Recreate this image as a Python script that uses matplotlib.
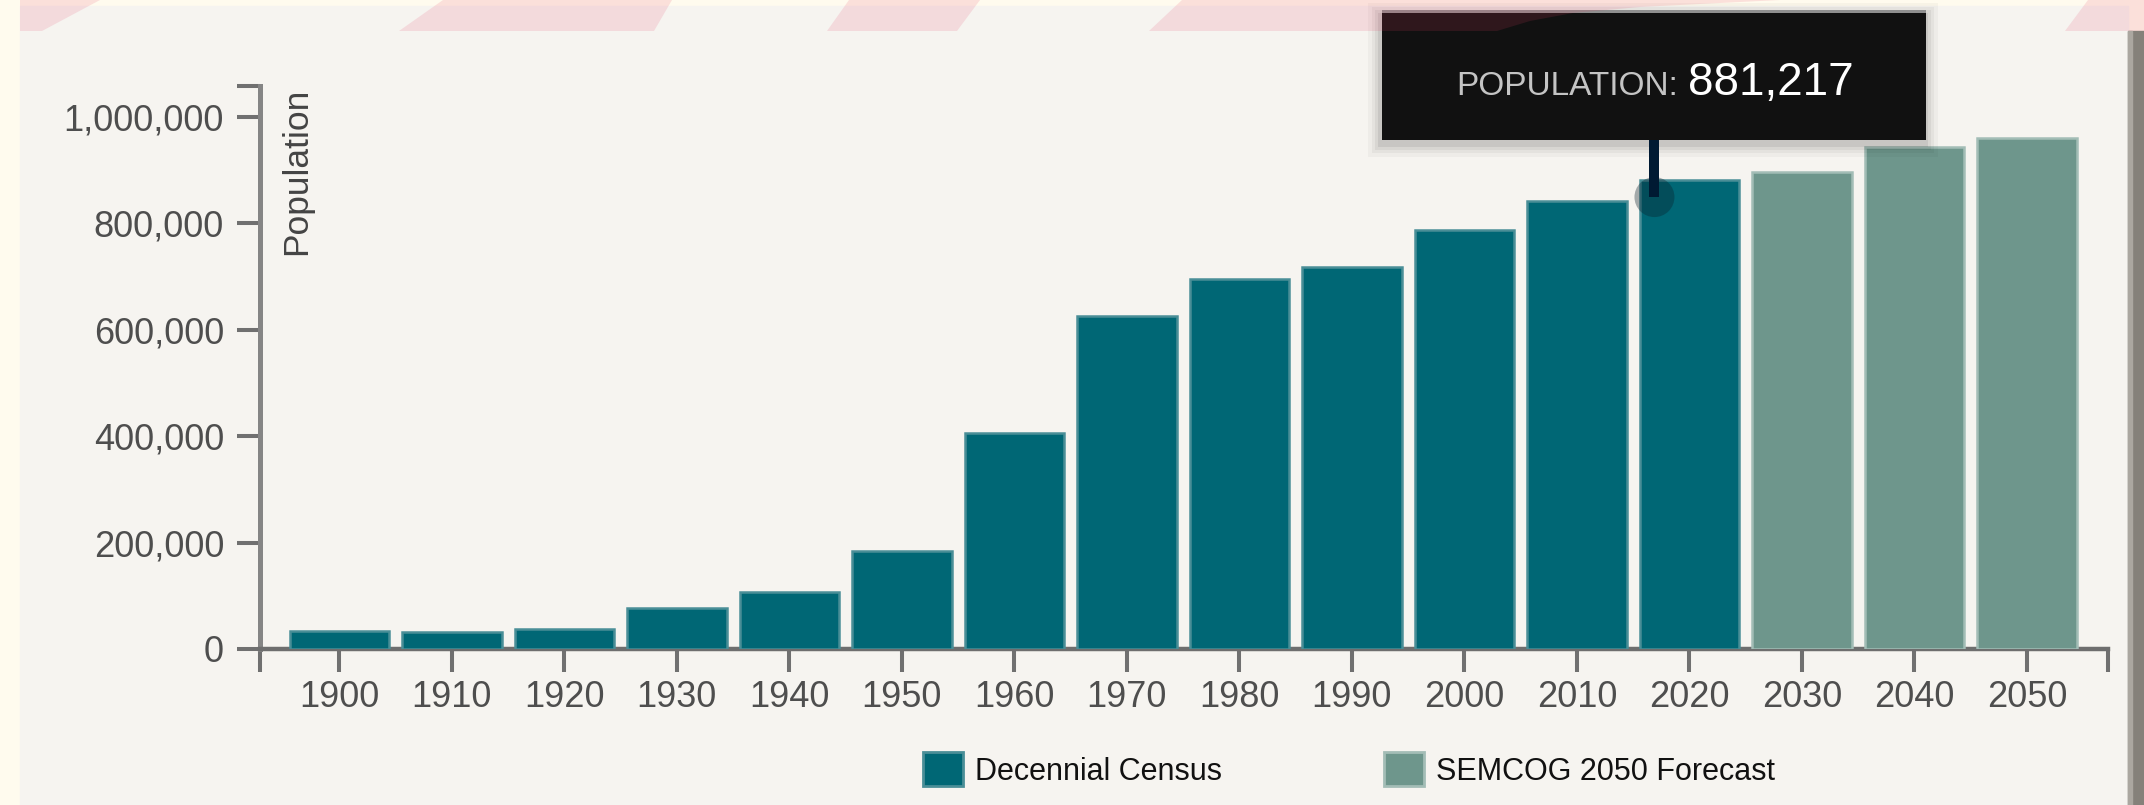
import numpy as np
import matplotlib.pyplot as plt
from matplotlib.patches import Rectangle, Polygon, Circle, Patch
from matplotlib.transforms import IdentityTransform

plt.rcParams['font.family'] = ['Liberation Sans', 'DejaVu Sans']

# dati
anni = ['1900', '1910', '1920', '1930', '1940', '1950', '1960', '1970',
        '1980', '1990', '2000', '2010', '2020', '2030', '2040', '2050']
censimento = [33244, 32606, 38103, 77146, 107638, 184961, 405804, 625309,
              694600, 717400, 788149, 840978, 881217]
previsione = [896000, 944000, 961000]
etichette_legenda = ['Decennial Census', 'SEMCOG 2050 Forecast']
tacche_y = [0, 200000, 400000, 600000, 800000, 1000000]
indice_evidenziato = 12

colore_censimento = '#006775'
colore_previsione = '#6E968C'
bordo_censimento = '#4A8E97'
bordo_previsione = '#A3BDB6'

L, H = 2144, 805
fig = plt.figure(figsize=(L / 100, H / 100), dpi=100, facecolor='#FFFBEE')
pix = IdentityTransform()


def rett(x0, y0, x1, y1, **kw):
    # coordinate immagine (y verso il basso) -> pixel display
    return Rectangle((x0, H - y1), x1 - x0, y1 - y0, transform=pix, **kw)


# sfondo pannello e bordo destro
fig.add_artist(rett(20, 6, 2128, H, color='#F6F4F0', zorder=-5))
fig.add_artist(rett(2128, 31, L, H, color='#85817A', zorder=-4))
fig.add_artist(rett(2128, 31, 2132, H, color='#ABA7A0', zorder=-4))

ax = fig.add_axes([260 / L, 1 - 649 / H, (2108 - 260) / L, (649 - 86) / H])
ax.set_facecolor('none')

x = np.arange(len(anni))
n = len(censimento)
ax.bar(x[:n], censimento, width=0.885, color=colore_censimento,
       edgecolor=bordo_censimento, linewidth=1.8, zorder=3)
ax.bar(x[n:], previsione, width=0.885, color=colore_previsione,
       edgecolor=bordo_previsione, linewidth=1.8, zorder=3)

x_min, x_max = -0.705, 15.72
y_max = 1058000
ax.set_xlim(x_min, x_max)
ax.set_ylim(0, y_max)

ax.set_xticks(x, anni)
ax.set_xticks([x_min, x_max], minor=True)
ax.set_yticks(tacche_y, [f'{v:,}' for v in tacche_y])
ax.set_yticks([y_max], minor=True)
ax.tick_params(which='both', direction='out', length=16.5, width=2.9,
               color='#707070', labelcolor='#4E4E4E', labelsize=26)
ax.tick_params(axis='x', which='both', pad=5.5)
ax.tick_params(axis='y', which='both', pad=9.4)

for lato in ['top', 'right']:
    ax.spines[lato].set_visible(False)
ax.spines['left'].set_color('#858585')
ax.spines['left'].set_linewidth(3.6)
ax.spines['bottom'].set_color('#6E6E6E')
ax.spines['bottom'].set_linewidth(3.2)

ax.text(0.02, 0.9964, 'Population', transform=ax.transAxes, rotation=90,
        ha='center', va='top', fontsize=25.5, color='#444444')

# legenda
maniglie = [Patch(facecolor=colore_censimento, edgecolor=bordo_censimento, linewidth=2),
            Patch(facecolor=colore_previsione, edgecolor=bordo_previsione, linewidth=2)]
fig.legend(maniglie, etichette_legenda, loc='center',
           bbox_to_anchor=(1349 / L, 1 - 769.5 / H), ncol=2, frameon=False,
           fontsize=22, handlelength=1.31, handleheight=1.34,
           handletextpad=0.39, columnspacing=5.3, borderpad=0,
           labelcolor='#111111')

# tooltip sulla barra 2020
punto = ax.transData.transform((x[indice_evidenziato], censimento[indice_evidenziato]))
cx, cy = punto[0] - 35, punto[1] - 17
bw, bh = 544, 130
bx0, by0 = cx - bw / 2, cy + 57
for k, a in [(12, 0.03), (8, 0.04), (5, 0.05), (2, 0.07)]:
    fig.add_artist(Rectangle((bx0 - 2 - k, by0 - 5 - k), bw + 2 * k + 2, bh + 2 * k,
                             transform=pix, color='black', alpha=a, lw=0, zorder=5))
fig.add_artist(Circle((cx, cy), 20, transform=pix, color='#0A1E2A', alpha=0.35,
                      lw=0, zorder=5.5))
fig.add_artist(Rectangle((cx - 5, cy), 10, 57, transform=pix, color='#001A33',
                         lw=0, zorder=6))
fig.add_artist(Rectangle((bx0, by0), bw, bh, transform=pix, color='#111111',
                         lw=0, zorder=6))
fig.add_artist(Rectangle((bx0, by0 + bh - 3), bw, 3, transform=pix, color='#8F8F8F',
                         lw=0, zorder=6.1))

renderer = fig.canvas.get_renderer()
t1 = fig.text(0, 0, 'POPULATION:', transform=pix, color='#C4C4C4', fontsize=24,
              va='baseline', ha='left', zorder=7)
t2 = fig.text(0, 0, f'{censimento[indice_evidenziato]:,}', transform=pix,
              color='white', fontsize=33, va='baseline', ha='left', zorder=7)
w1 = t1.get_window_extent(renderer).width
w2 = t2.get_window_extent(renderer).width
spazio = 10
inizio = cx - (w1 + spazio + w2) / 2
base = cy + 102
t1.set_position((inizio, base))
t2.set_position((inizio + w1 + spazio, base))

# strisce decorative rosa in alto
strisce = [
    [(20, 0), (100, 0), (42, 31), (20, 31)],
    [(443, 0), (672, 0), (654, 31), (399, 31)],
    [(849, 0), (980, 0), (957, 31), (827, 31)],
    [(1182, 0), (1780, 0), (1640, 7), (1573, 13), (1530, 21), (1497, 31), (1149, 31)],
    [(2088, 0), (L, 0), (L, 31), (2065, 31)],
]
for s in strisce:
    fig.add_artist(Polygon([(px, H - py) for px, py in s], closed=True, transform=pix,
                           facecolor=(230 / 255, 60 / 255, 100 / 255), alpha=0.14,
                           lw=0, zorder=20))

fig.savefig('out.png', dpi=100, facecolor=fig.get_facecolor())
